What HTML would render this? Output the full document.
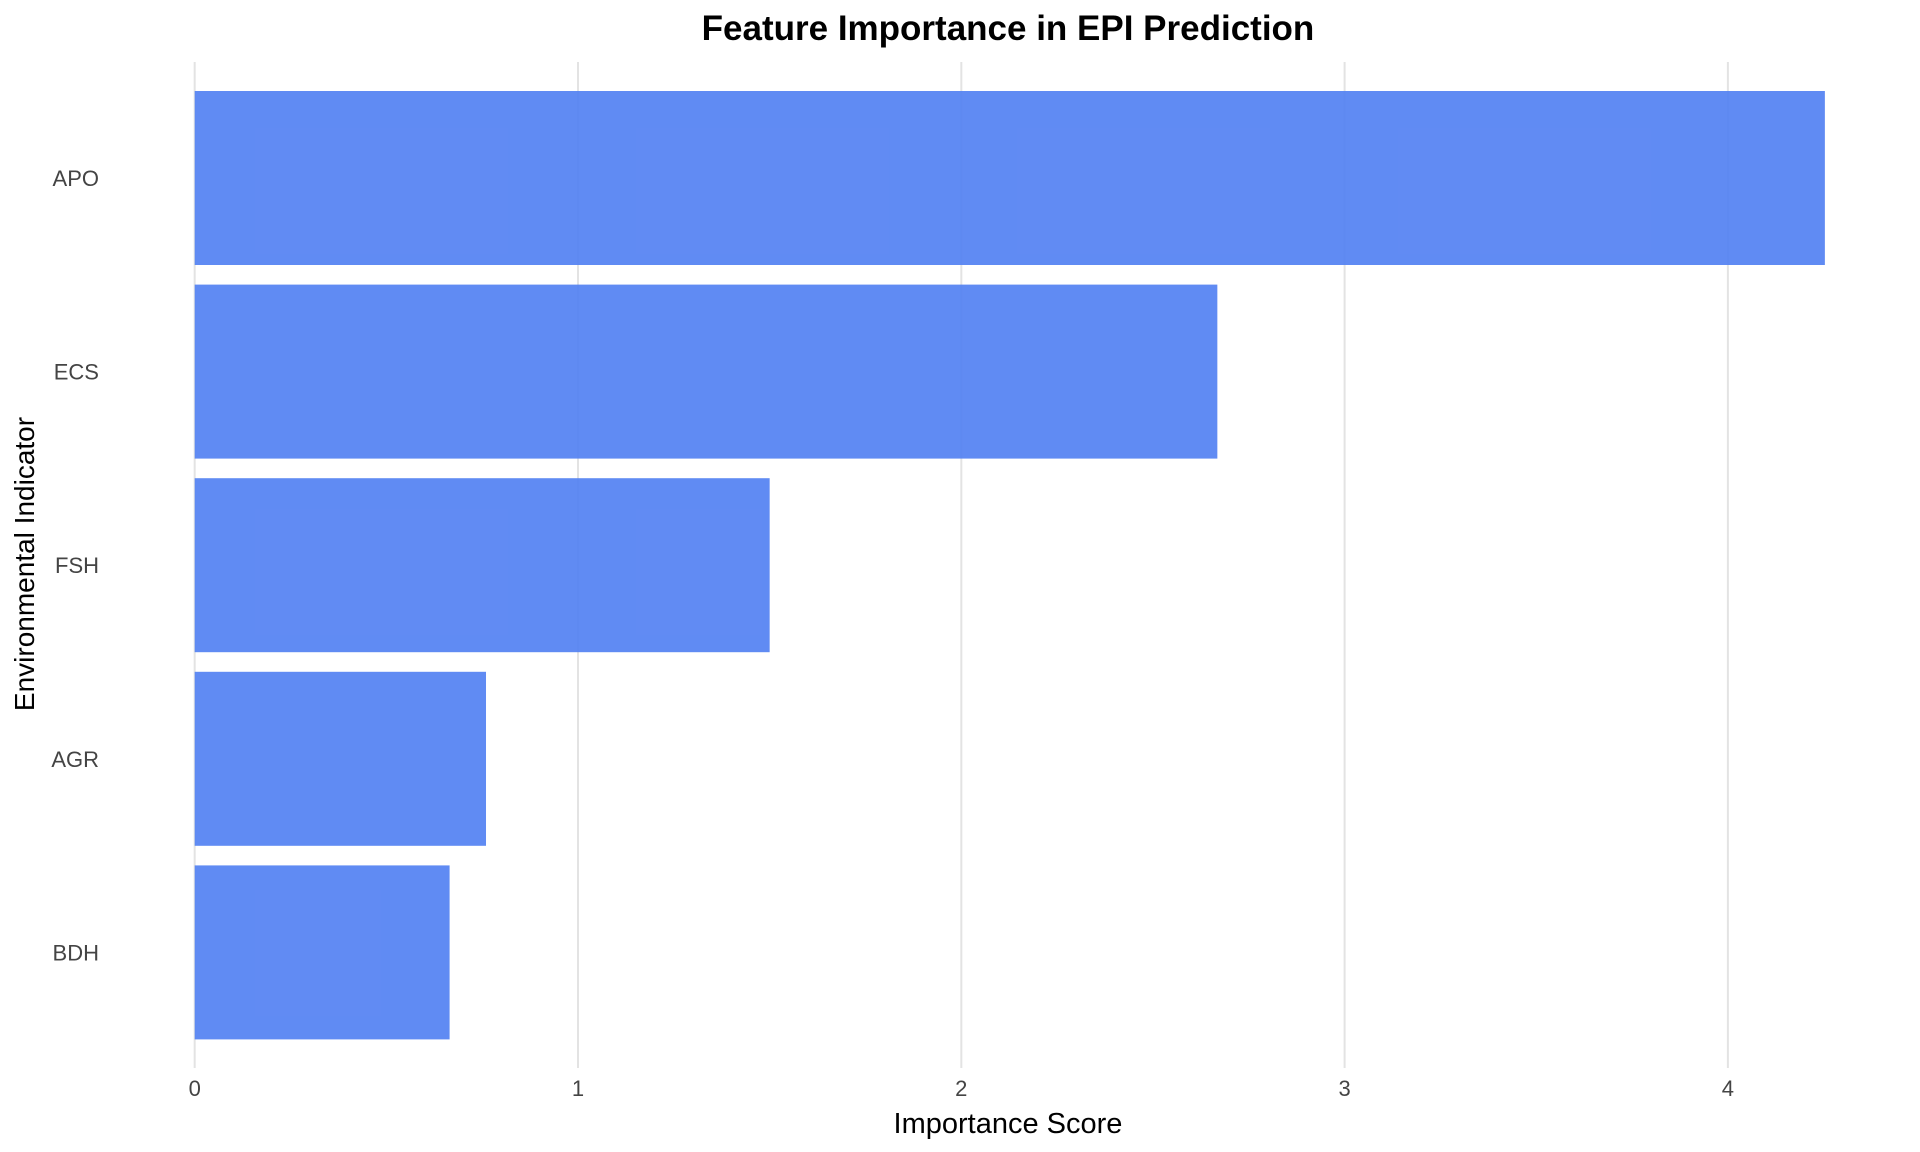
<!DOCTYPE html>
<html><head><meta charset="utf-8"><style>
html,body{margin:0;padding:0;background:#fff;}
svg{display:block;font-family:"Liberation Sans",sans-serif;}
</style></head><body>
<svg id="chart" width="1920" height="1152" viewBox="0 0 1920 1152" xmlns="http://www.w3.org/2000/svg">
<text x="1008" y="40" text-anchor="middle" font-size="35" font-weight="bold" fill="#000">Feature Importance in EPI Prediction</text>
<g id="grid"></g>
<g id="bars"></g>
<g id="xticks"></g>
<g id="yticks"></g>
<text x="1008" y="1133" text-anchor="middle" font-size="29" fill="#000">Importance Score</text>
<text transform="translate(34,564) rotate(-90)" text-anchor="middle" font-size="28" fill="#000">Environmental Indicator</text>
</svg>
<script>
const categories = ["APO","ECS","FSH","AGR","BDH"];
const values = [4.253, 2.668, 1.50, 0.76, 0.665];
const xTicks = [0,1,2,3,4];
const NS="http://www.w3.org/2000/svg";
const x0=194.7, xUnit=383.3;
function xScale(v){return x0+v*xUnit;}
const yFirst=178, yStep=193.6, barH=174;
function yScale(i){return yFirst+i*yStep;}
function mk(tag,attrs,parent){const e=document.createElementNS(NS,tag);for(const k in attrs)e.setAttribute(k,attrs[k]);parent.appendChild(e);return e;}
const grid=document.getElementById('grid'),bars=document.getElementById('bars'),xt=document.getElementById('xticks'),yt=document.getElementById('yticks');
xTicks.forEach(t=>{
  const l=mk('line',{x1:xScale(t),x2:xScale(t),y1:62,y2:1068,stroke:'#e3e3e3','stroke-width':2},grid);
  
  
  const tx=mk('text',{x:xScale(t),y:1096,'text-anchor':'middle','font-size':22,fill:'#444'},xt);
  tx.textContent=t;
  
  
});
categories.forEach((c,i)=>{
  const r=mk('rect',{x:xScale(0),y:yScale(i)-barH/2,width:xScale(values[i])-xScale(0),height:barH,fill:'#4f7ef2','fill-opacity':0.9},bars);
  
  
  const tx=mk('text',{x:99,y:yScale(i)+8,'text-anchor':'end','font-size':22,fill:'#444'},yt);
  tx.textContent=c;
  
  
});
</script>
</body></html>
